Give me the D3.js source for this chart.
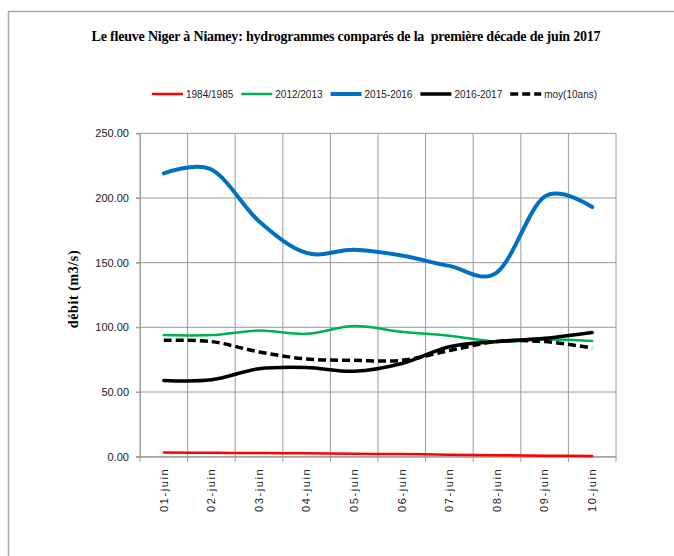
<!DOCTYPE html>
<html>
<head>
<meta charset="utf-8">
<script src="https://cdn.jsdelivr.net/npm/d3@7"></script>
<style>
  body { margin: 0; background: #fff; }
  .tick text { font-family: "Liberation Sans", Arial, sans-serif; font-size: 11px; fill: #222; }
  .legend { font-family: "Liberation Sans", Arial, sans-serif; font-size: 10px; fill: #222; }
</style>
</head>
<body>
<script>
// Data
var days = ["01-juin","02-juin","03-juin","04-juin","05-juin","06-juin","07-juin","08-juin","09-juin","10-juin"];
var y1984 = [3.3, 3.0, 2.8, 2.6, 2.3, 2.0, 1.6, 1.2, 0.8, 0.5];
var y2012 = [94, 94, 97.5, 95, 101, 96.5, 93.5, 89, 90.5, 89.5];
var y2015 = [219, 222, 182, 157.5, 160, 155.5, 147.5, 142.5, 201, 193];
var y2016 = [59, 59.5, 68, 69, 66, 72, 85, 89, 91.5, 96];
var yMoy  = [90, 89, 81, 75.5, 74.5, 74.5, 82, 89, 89, 84];
var yTicks = [0, 50, 100, 150, 200, 250];

var series = [
  {name: "1984/1985", values: y1984, color: "#ff0000", w: 2.5, dash: null},
  {name: "2012/2013", values: y2012, color: "#00b050", w: 2.5, dash: null},
  {name: "2015-2016", values: y2015, color: "#0070c0", w: 4,   dash: null},
  {name: "2016-2017", values: y2016, color: "#000000", w: 3.5, dash: null},
  {name: "moy(10ans)", values: yMoy, color: "#000000", w: 3.5, dash: "8,4"}
];

var W = 674, H = 556;
var plot = {left: 140, right: 616, top: 133.3, bottom: 456.7};

var svg = d3.select("body").append("svg")
    .attr("width", W)
    .attr("height", H);

// chart frame
svg.append("path")
    .attr("d", "M8.5," + H + "V11.5H" + W)
    .attr("fill", "none")
    .attr("stroke", "#a6a6a6")
    .attr("stroke-width", 1.5);

// scales
var x = d3.scaleBand().domain(days).range([plot.left, plot.right]).padding(0);
var y = d3.scaleLinear().domain([0, 250]).range([plot.bottom, plot.top]);
var cx = function(i) { return x(days[i]) + x.bandwidth() / 2; };

// horizontal grid
svg.append("g").selectAll("line")
    .data(yTicks).join("line")
    .attr("x1", plot.left - 4).attr("x2", plot.right)
    .attr("y1", d => y(d)).attr("y2", d => y(d))
    .attr("stroke", "#9a9a9a").attr("stroke-width", 1);

// vertical grid at category boundaries (+ small ticks below)
var bounds = days.map(d => x(d)).concat([plot.right]);
svg.append("g").selectAll("line")
    .data(bounds).join("line")
    .attr("x1", d => d).attr("x2", d => d)
    .attr("y1", plot.top).attr("y2", plot.bottom + 5)
    .attr("stroke", "#9a9a9a").attr("stroke-width", 1);

// y axis
var yAxis = svg.append("g")
    .attr("transform", "translate(" + plot.left + ",0)")
    .call(d3.axisLeft(y).tickValues(yTicks).tickFormat(d3.format(".2f")).tickSize(4).tickPadding(7));
yAxis.select(".domain").attr("stroke", "#9a9a9a");
yAxis.selectAll(".tick line").attr("stroke", "#9a9a9a");

// x axis labels
var xAxis = svg.append("g")
    .attr("transform", "translate(0," + plot.bottom + ")")
    .call(d3.axisBottom(x).tickSize(0));
xAxis.select(".domain").attr("stroke", "#9a9a9a");
xAxis.selectAll(".tick text")
    .attr("transform", "rotate(-90)")
    .attr("text-anchor", "end")
    .attr("x", -11)
    .attr("y", 0)
    .attr("dy", "0.35em")
    .style("letter-spacing", "1.6px");

// lines
var line = d3.line()
    .x((d, i) => cx(i))
    .y(d => y(d))
    .curve(d3.curveCatmullRom.alpha(0));

series.forEach(function(s) {
  svg.append("path")
      .attr("d", line(s.values))
      .attr("fill", "none")
      .attr("stroke", s.color)
      .attr("stroke-width", s.w)
      .attr("stroke-dasharray", s.dash)
      .attr("stroke-linecap", s.dash ? "butt" : "round");
});

// title
svg.append("text")
    .attr("x", 346)
    .attr("y", 41)
    .attr("text-anchor", "middle")
    .style("font-family", "'Liberation Serif', 'Times New Roman', serif")
    .style("font-weight", "bold")
    .style("font-size", "14px")
    .style("letter-spacing", "-0.2px")
    .style("white-space", "pre")
    .text("Le fleuve Niger à Niamey: hydrogrammes comparés de la  première décade de juin 2017");

// y label
svg.append("text")
    .attr("transform", "translate(78,289) rotate(-90)")
    .attr("text-anchor", "middle")
    .style("font-family", "'Liberation Serif', 'Times New Roman', serif")
    .style("font-weight", "bold")
    .style("font-size", "14px")
    .style("letter-spacing", "0.6px")
    .text("débit (m3/s)");

// legend
var lx = 152, ly = 94;
series.forEach(function(s) {
  svg.append("line")
      .attr("x1", lx).attr("x2", lx + 31)
      .attr("y1", ly).attr("y2", ly)
      .attr("stroke", s.color)
      .attr("stroke-width", s.w)
      .attr("stroke-dasharray", s.dash);
  var t = svg.append("text")
      .attr("class", "legend")
      .attr("x", lx + 34)
      .attr("y", ly)
      .attr("dy", "0.35em")
      .text(s.name);
  lx += 34 + t.node().getComputedTextLength() + 8;
});
</script>
</body>
</html>
